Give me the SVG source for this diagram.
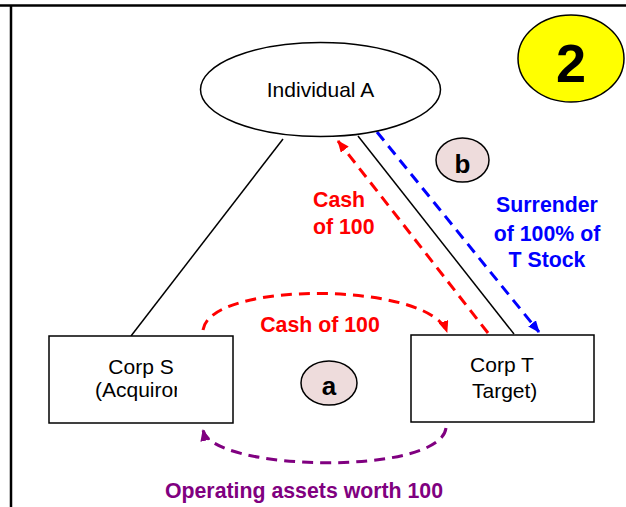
<svg xmlns="http://www.w3.org/2000/svg" width="626" height="507" viewBox="0 0 626 507">
<style>
  .lbl { font-family: "Liberation Sans", Arial, sans-serif; font-size: 21px; fill: #000; }
  .bold { font-family: "Liberation Sans", Arial, sans-serif; font-weight: bold; }
  .tx { font-size: 21.3px; }
  .node { fill: #fff; stroke: #000; stroke-width: 1.5; }
  .badge { fill: #EEDCDC; stroke: #000; stroke-width: 1.5; }
  .thin { stroke: #000; stroke-width: 1.5; fill: none; }
  .dash { fill: none; stroke-width: 3; stroke-dasharray: 11 7; }
</style>
<defs>
  <marker id="ahRed" markerWidth="12" markerHeight="10" refX="11" refY="5" orient="auto" markerUnits="userSpaceOnUse">
    <path d="M0,0 L12,5 L0,10 Z" fill="#FF0000"/>
  </marker>
  <marker id="ahBlue" markerWidth="12" markerHeight="10" refX="11" refY="5" orient="auto" markerUnits="userSpaceOnUse">
    <path d="M0,0 L12,5 L0,10 Z" fill="#0000FF"/>
  </marker>
  <marker id="ahPurple" markerWidth="12" markerHeight="10" refX="11" refY="5" orient="auto" markerUnits="userSpaceOnUse">
    <path d="M0,0 L12,5 L0,10 Z" fill="#800080"/>
  </marker>
  <clipPath id="clipS"><rect x="50" y="340" width="127" height="80"/></clipPath>
</defs>

<rect x="0" y="0" width="626" height="507" fill="#fff"/>
<g id="frame">
  <line x1="0" y1="5.5" x2="626" y2="5.5" stroke="#000" stroke-width="2.5"/>
  <line x1="11" y1="5.5" x2="11" y2="507" stroke="#000" stroke-width="2.5"/>
</g>

<g id="connectors">
  <line class="thin" x1="283" y1="139" x2="131" y2="336"/>
  <line class="thin" x1="358" y1="136" x2="514" y2="334"/>
  <line class="dash" stroke="#FF0000" x1="488" y1="333" x2="338" y2="141" marker-end="url(#ahRed)"/>
  <line class="dash" stroke="#0000FF" x1="377" y1="132" x2="539" y2="332" marker-end="url(#ahBlue)"/>
  <path class="dash" stroke="#FF0000" d="M203,330 C210,280 430,282 447,332" marker-end="url(#ahRed)"/>
  <path class="dash" stroke="#800080" d="M446,428 C440,476 212,472 203,430" marker-end="url(#ahPurple)"/>
</g>

<g id="badge2">
  <ellipse cx="571" cy="58.5" rx="53" ry="43.5" fill="#FFFF00" stroke="#000" stroke-width="1.5"/>
  <text class="bold" x="571" y="82" font-size="54" text-anchor="middle">2</text>
</g>

<g id="individualA">
  <ellipse class="node" cx="320.5" cy="89.5" rx="120" ry="47"/>
  <text class="lbl" x="320.5" y="97" text-anchor="middle">Individual A</text>
</g>

<g id="corpS">
  <rect class="node" x="49" y="336" width="184" height="87"/>
  <text class="lbl" x="141" y="374" text-anchor="middle">Corp S</text>
  <text class="lbl" x="95" y="397" clip-path="url(#clipS)">(Acquiror</text>
</g>

<g id="corpT">
  <rect class="node" x="411" y="335" width="183" height="87"/>
  <text class="lbl" x="502" y="372" text-anchor="middle">Corp T</text>
  <text class="lbl" x="472" y="398">Target)</text>
</g>

<g id="badgeA">
  <ellipse class="badge" cx="329" cy="383" rx="28" ry="22"/>
  <text class="bold" x="329" y="395" font-size="26" text-anchor="middle">a</text>
</g>

<g id="badgeB">
  <ellipse class="badge" cx="462.5" cy="160" rx="26.5" ry="22"/>
  <text class="bold" x="462.5" y="173" font-size="26" text-anchor="middle">b</text>
</g>

<g id="labels">
  <text class="bold tx" x="320" y="332" fill="#FF0000" text-anchor="middle">Cash of 100</text>
  <text class="bold tx" x="313" y="207" fill="#FF0000">Cash</text>
  <text class="bold tx" x="313" y="234" fill="#FF0000">of 100</text>
  <text class="bold tx" x="547" y="212" fill="#0000FF" text-anchor="middle">Surrender</text>
  <text class="bold tx" x="547" y="241" fill="#0000FF" text-anchor="middle">of 100% of</text>
  <text class="bold tx" x="547" y="267" fill="#0000FF" text-anchor="middle">T Stock</text>
  <text class="bold tx" x="304" y="498" fill="#800080" text-anchor="middle">Operating assets worth 100</text>
</g>
</svg>
